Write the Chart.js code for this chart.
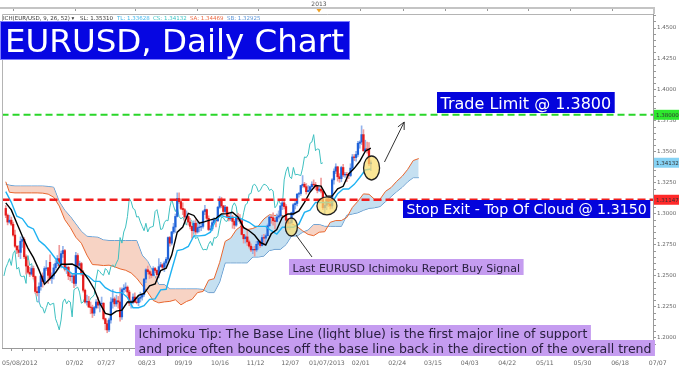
<!DOCTYPE html>
<html>
<head>
<meta charset="utf-8">
<script src="https://cdn.jsdelivr.net/npm/chart.js@4.4.1/dist/chart.umd.min.js"></script>
<style>
html, body { margin: 0; padding: 0; background: #fff; }
#wrap { width: 680px; height: 372px; position: relative; }
</style>
</head>
<body>
<div id="wrap"><canvas id="chart" width="680" height="372"></canvas></div>
<script>
// daily EUR/USD candles, bar 0 = 05/08/2012
var opens = [
    1.3045,1.2990,1.2935,1.2950,1.2917,1.2830,1.2740,1.2710,1.2690,1.2780,
    1.2795,1.2655,1.2580,1.2530,1.2515,1.2560,1.2495,1.2375,1.2365,1.2415,
    1.2500,1.2455,1.2560,1.2565,1.2610,1.2480,1.2500,1.2565,1.2600,1.2640,
    1.2585,1.2680,1.2705,1.2555,1.2570,1.2500,1.2495,1.2500,1.2440,1.2665,
    1.2585,1.2600,1.2520,1.2385,1.2290,1.2295,1.2250,1.2245,1.2200,1.2245,
    1.2290,1.2265,1.2275,1.2280,1.2155,1.2115,1.2065,1.2145,1.2290,1.2315,
    1.2275,1.2300,1.2290,1.2170,1.2390,1.2400,1.2410,1.2370,1.2280,1.2290,
    1.2330,1.2290,1.2285,1.2320,1.2330,1.2350,1.2475,1.2550,1.2535,1.2515,
    1.2505,1.2560,1.2545,1.2510,1.2575,1.2590,1.2570,1.2605,1.2635,1.2810,
    1.2765,1.2855,1.2895,1.2980,1.3125,1.3100,1.3045,1.3035,1.2975,1.2980,
    1.2935,1.2900,1.2865,1.2925,1.2855,1.2890,1.2895,1.2900,1.3020,1.3035,
    1.2965,1.2875,1.2880,1.2930,1.2950,1.2945,1.3055,1.3120,1.3065,1.3020,
    1.3055,1.2980,1.2960,1.2975,1.2940,1.2910,1.2975,1.2960,1.2945,1.2835,
    1.2800,1.2815,1.2775,1.2740,1.2710,1.2715,1.2710,1.2755,1.2780,1.2745,
    1.2810,1.2805,1.2825,1.2905,1.2975,1.2970,1.2945,1.2940,1.2975,1.2985,
    1.3065,1.3090,1.3060,1.2950,1.2925,1.2930,1.3010,1.3075,1.3085,1.3160,
    1.3165,1.3230,1.3240,1.3220,1.3180,1.3190,1.3220,1.3240,1.3235,1.3220,
    1.3190,1.3200,1.3185,1.3050,1.3070,1.3115,1.3080,1.3065,1.3275,1.3345,
    1.3380,1.3300,1.3285,1.3375,1.3315,1.3320,1.3315,1.3310,1.3370,1.3460,
    1.3455,1.3480,1.3570,1.3580,1.3640,1.3510,1.3525,1.3520,1.3405
];
var highs = [
    1.3068,1.3000,1.2990,1.2975,1.2935,1.2870,1.2745,1.2745,1.2815,1.2820,
    1.2810,1.2670,1.2625,1.2570,1.2580,1.2580,1.2500,1.2410,1.2445,1.2515,
    1.2525,1.2575,1.2625,1.2570,1.2670,1.2525,1.2595,1.2625,1.2665,1.2747,
    1.2700,1.2740,1.2715,1.2590,1.2580,1.2525,1.2515,1.2515,1.2690,1.2680,
    1.2620,1.2610,1.2545,1.2395,1.2345,1.2335,1.2290,1.2265,1.2255,1.2310,
    1.2330,1.2295,1.2330,1.2285,1.2160,1.2140,1.2160,1.2325,1.2390,1.2330,
    1.2345,1.2335,1.2405,1.2405,1.2430,1.2445,1.2420,1.2385,1.2305,1.2355,
    1.2365,1.2320,1.2345,1.2370,1.2355,1.2480,1.2560,1.2580,1.2545,1.2535,
    1.2575,1.2570,1.2550,1.2640,1.2610,1.2600,1.2620,1.2650,1.2815,1.2820,
    1.2860,1.2925,1.3000,1.3170,1.3170,1.3120,1.3090,1.3045,1.3025,1.2985,
    1.2965,1.2905,1.2945,1.2955,1.2935,1.2935,1.2935,1.3030,1.3070,1.3040,
    1.2985,1.2905,1.2950,1.2970,1.2960,1.3060,1.3140,1.3135,1.3070,1.3070,
    1.3060,1.3015,1.3015,1.2990,1.2955,1.2990,1.3005,1.2995,1.2955,1.2835,
    1.2830,1.2880,1.2790,1.2760,1.2735,1.2740,1.2780,1.2790,1.2790,1.2830,
    1.2835,1.2840,1.2920,1.2985,1.2985,1.3010,1.2965,1.3000,1.3025,1.3070,
    1.3125,1.3110,1.3075,1.2965,1.2950,1.3015,1.3085,1.3100,1.3165,1.3175,
    1.3230,1.3310,1.3255,1.3245,1.3230,1.3225,1.3260,1.3275,1.3255,1.3230,
    1.3215,1.3290,1.3195,1.3085,1.3125,1.3135,1.3105,1.3285,1.3365,1.3405,
    1.3385,1.3325,1.3385,1.3400,1.3335,1.3335,1.3330,1.3405,1.3480,1.3480,
    1.3505,1.3585,1.3590,1.3711,1.3680,1.3595,1.3580,1.3575,1.3430
];
var lows = [
    1.2970,1.2912,1.2925,1.2905,1.2820,1.2730,1.2680,1.2655,1.2640,1.2730,
    1.2640,1.2515,1.2520,1.2495,1.2505,1.2475,1.2360,1.2340,1.2288,1.2385,
    1.2410,1.2445,1.2545,1.2440,1.2465,1.2440,1.2475,1.2550,1.2580,1.2570,
    1.2565,1.2650,1.2540,1.2520,1.2470,1.2460,1.2445,1.2405,1.2420,1.2560,
    1.2555,1.2505,1.2370,1.2280,1.2265,1.2245,1.2195,1.2165,1.2180,1.2235,
    1.2240,1.2210,1.2250,1.2145,1.2065,1.2042,1.2050,1.2120,1.2240,1.2255,
    1.2255,1.2240,1.2135,1.2150,1.2365,1.2375,1.2340,1.2260,1.2240,1.2275,
    1.2285,1.2275,1.2260,1.2290,1.2305,1.2335,1.2445,1.2515,1.2480,1.2485,
    1.2500,1.2525,1.2475,1.2485,1.2570,1.2555,1.2535,1.2570,1.2620,1.2740,
    1.2750,1.2840,1.2850,1.2975,1.3085,1.3035,1.2995,1.2920,1.2960,1.2910,
    1.2880,1.2805,1.2845,1.2835,1.2845,1.2855,1.2865,1.2885,1.2995,1.2955,
    1.2865,1.2860,1.2865,1.2920,1.2895,1.2940,1.3045,1.3050,1.3005,1.3010,
    1.2970,1.2945,1.2945,1.2885,1.2880,1.2900,1.2950,1.2925,1.2830,1.2765,
    1.2765,1.2745,1.2725,1.2695,1.2680,1.2660,1.2695,1.2715,1.2730,1.2740,
    1.2750,1.2760,1.2820,1.2895,1.2925,1.2910,1.2880,1.2935,1.2960,1.2975,
    1.3035,1.3040,1.2925,1.2875,1.2875,1.2920,1.2990,1.3040,1.3065,1.3135,
    1.3150,1.3215,1.3210,1.3160,1.3175,1.3180,1.3195,1.3205,1.3195,1.3170,
    1.3180,1.3170,1.3035,1.2998,1.3035,1.3060,1.3040,1.3045,1.3240,1.3325,
    1.3265,1.3255,1.3260,1.3300,1.3295,1.3260,1.3285,1.3300,1.3355,1.3430,
    1.3425,1.3465,1.3530,1.3560,1.3505,1.3500,1.3490,1.3390,1.3350
];
var closes = [
    1.2990,1.2935,1.2950,1.2917,1.2830,1.2740,1.2710,1.2690,1.2780,1.2795,
    1.2655,1.2580,1.2530,1.2515,1.2560,1.2495,1.2375,1.2365,1.2415,1.2500,
    1.2455,1.2560,1.2565,1.2505,1.2480,1.2500,1.2565,1.2600,1.2640,1.2585,
    1.2680,1.2705,1.2555,1.2570,1.2500,1.2495,1.2500,1.2440,1.2665,1.2585,
    1.2600,1.2520,1.2385,1.2290,1.2295,1.2250,1.2245,1.2200,1.2245,1.2290,
    1.2265,1.2275,1.2280,1.2155,1.2115,1.2065,1.2145,1.2290,1.2315,1.2275,
    1.2300,1.2290,1.2170,1.2390,1.2400,1.2410,1.2370,1.2280,1.2290,1.2330,
    1.2290,1.2285,1.2320,1.2330,1.2350,1.2475,1.2550,1.2535,1.2515,1.2505,
    1.2560,1.2545,1.2510,1.2575,1.2590,1.2570,1.2605,1.2635,1.2810,1.2765,
    1.2855,1.2895,1.2980,1.3125,1.3100,1.3045,1.3035,1.2975,1.2980,1.2935,
    1.2900,1.2865,1.2925,1.2855,1.2890,1.2895,1.2900,1.3020,1.3035,1.2965,
    1.2875,1.2880,1.2930,1.2950,1.2945,1.3055,1.3120,1.3065,1.3020,1.3055,
    1.2980,1.2960,1.2975,1.2940,1.2910,1.2975,1.2960,1.2945,1.2835,1.2800,
    1.2815,1.2775,1.2740,1.2710,1.2715,1.2710,1.2755,1.2780,1.2745,1.2810,
    1.2805,1.2825,1.2905,1.2975,1.2970,1.2945,1.2940,1.2975,1.2985,1.3065,
    1.3090,1.3060,1.2950,1.2925,1.2930,1.3010,1.3075,1.3085,1.3160,1.3165,
    1.3230,1.3240,1.3220,1.3180,1.3190,1.3220,1.3240,1.3235,1.3220,1.3190,
    1.3200,1.3185,1.3050,1.3070,1.3115,1.3080,1.3065,1.3275,1.3345,1.3380,
    1.3300,1.3285,1.3375,1.3315,1.3320,1.3315,1.3310,1.3370,1.3460,1.3455,
    1.3480,1.3570,1.3580,1.3640,1.3510,1.3525,1.3520,1.3405,1.3413
];

// ichimoku lines, read every 3rd bar
var lineX = [0,3,6,9,12,15,18,21,24,27,30,33,36,39,42,45,48,51,54,57,60,63,66,69,72,75,78,81,84,87,90,93,96,99,
    102,105,108,111,114,117,120,123,126,129,132,135,138,141,144,147,150,153,156,159,162,165,168,171,174,177,180,183,186,189,192,195,198];
var tenkan = [1.3090,1.3033,1.2925,1.2820,1.2725,1.2648,1.2549,1.2434,1.2479,1.2528,1.2594,1.2594,1.2596,1.2573,
    1.2530,1.2468,1.2393,1.2280,1.2198,1.2186,1.2216,1.2224,1.2290,1.2290,1.2343,1.2360,1.2420,1.2435,1.2543,1.2563,
    1.2668,1.2853,1.2895,1.3005,1.2988,1.2925,1.2938,1.2953,1.2965,1.3000,1.3003,1.3013,1.2975,1.2890,1.2865,1.2828,
    1.2770,1.2750,1.2840,1.2875,1.2973,1.3000,1.3000,1.3025,1.3093,1.3175,1.3230,1.3225,1.3144,1.3144,1.3202,1.3223,
    1.3323,1.3368,1.3425,1.3506,1.3531];
var kijun = [1.3180,1.3094,1.2982,1.2962,1.2899,1.2879,1.2786,1.2749,1.2699,1.2639,1.2579,1.2554,1.2518,1.2518,
    1.2518,1.2496,1.2456,1.2456,1.2406,1.2379,1.2366,1.2366,1.2326,1.2244,1.2244,1.2261,1.2311,1.2315,1.2388,1.2393,
    1.2550,1.2705,1.2715,1.2738,1.2823,1.2823,1.2828,1.2853,1.2955,1.2988,1.2973,1.2973,1.2973,1.2953,1.2933,1.2900,
    1.2900,1.2900,1.2865,1.2838,1.2893,1.2893,1.2893,1.2918,1.3013,1.3030,1.3093,1.3093,1.3093,1.3093,1.3163,1.3202,
    1.3202,1.3239,1.3294,1.3355,1.3363];

// cloud, plotted 26 bars ahead
var cloudX = [0,2,5,8,11,14,17,20,23,26,29,32,35,38,41,44,47,50,53,56,59,62,65,68,71,74,77,80,83,86,89,92,95,98,
    101,104,107,110,113,116,119,122,125,128,131,134,137,140,143,146,149,152,155,158,161,164,167,170,173,176,179,182,
    185,188,191,194,197,200,203,206,209,212,215,218,221,224];
var senkouA = [1.3260,1.3175,1.3170,1.3170,1.3170,1.3170,1.3170,1.3168,1.3160,
    1.3135,1.3064,1.2954,1.2891,1.2812,1.2764,1.2668,1.2592,1.2589,1.2584,1.2587,1.2574,1.2557,1.2546,1.2524,1.2482,
    1.2425,1.2368,1.2302,1.2283,1.2291,1.2295,1.2308,1.2267,1.2294,1.2311,1.2366,1.2375,1.2466,1.2478,1.2609,1.2779,
    1.2805,1.2872,1.2906,1.2874,1.2883,1.2903,1.2960,1.2994,1.2988,1.2993,1.2974,1.2922,1.2899,1.2864,1.2835,1.2825,
    1.2853,1.2857,1.2933,1.2947,1.2947,1.2972,1.3053,1.3103,1.3162,1.3159,1.3119,1.3119,1.3183,1.3213,1.3263,1.3304,
    1.3360,1.3431,1.3447];
var senkouB = [1.3240,1.3232,1.3225,1.3225,1.3225,1.3225,1.3225,1.3225,1.3222,
    1.3215,1.3100,1.3030,1.2980,1.2920,1.2860,1.2820,1.2815,1.2812,1.2790,1.2786,1.2786,1.2786,1.2786,1.2786,1.2786,
    1.2668,1.2617,1.2528,1.2431,1.2431,1.2395,1.2395,1.2395,1.2395,1.2395,1.2395,1.2391,1.2366,1.2366,1.2451,1.2606,
    1.2606,1.2606,1.2606,1.2606,1.2653,1.2653,1.2660,1.2705,1.2715,1.2715,1.2753,1.2823,1.2823,1.2853,1.2870,1.2915,
    1.2915,1.2900,1.2900,1.2900,1.2900,1.2990,1.3000,1.3010,1.3030,1.3045,1.3050,1.3060,1.3100,1.3140,1.3180,1.3215,
    1.3260,1.3293,1.3293];
var chikouShift = 26;

var tradeLimit = 1.3800;
var stopExit = 1.31147;
var lastClose = 1.34132;

var xTickPos = [0, 37.3, 54.5, 76.5, 96.3, 116.2, 135.5, 154.3, 174.2, 192.5, 212.3, 231.7, 251.6, 272, 292.4, 312.8, 333.2, 353.6];
var xTickLabels = ['05/08/2012','07/02','07/27','08/23','09/19','10/16','11/12','12/07','01/07/2013','02/01',
    '02/24','03/15','04/03','04/22','05/11','05/30','06/18','07/07'];

var xMin = -0.3, xMax = 349.3;
var yMin = 1.1919, yMax = 1.4613;

var upColor = '#1f62d8', downColor = '#e51b1b';
var upWick = '#93b3ec', downWick = '#f09a9a';

function pairs(xs, ys) {
    return ys.map(function (v, k) { return { x: xs[k], y: v }; });
}

var bodies = closes.map(function (c, i) { return { x: i, y: [opens[i], c] }; });
var wicks = closes.map(function (c, i) { return { x: i, y: [lows[i], highs[i]] }; });
var bodyColors = closes.map(function (c, i) { return c >= opens[i] ? upColor : downColor; });
var wickColors = closes.map(function (c, i) { return c >= opens[i] ? upWick : downWick; });
var chikou = closes.map(function (c, i) { return { x: i - chikouShift, y: c }; });

function hline(v) {
    return [{ x: xMin - 2, y: v }, { x: xMax + 2, y: v }];
}

function box(ctx, text, left, top, h, font, fill, color, base) {
    ctx.font = font;
    var w = ctx.measureText(text).width + 7;
    ctx.fillStyle = fill;
    ctx.fillRect(left, top, w, h);
    ctx.fillStyle = color;
    ctx.textAlign = 'left';
    ctx.textBaseline = 'alphabetic';
    ctx.fillText(text, left + 3.5, top + base);
}

const overlay = {
    id: 'overlay',
    afterDraw(chart) {
        const { ctx, chartArea: a, scales: { x, y } } = chart;
        ctx.save();

        // frame + navigator strip on top
        ctx.strokeStyle = '#b4b4b4';
        ctx.lineWidth = 1;
        ctx.beginPath();
        ctx.moveTo(a.left + 0.5, a.bottom);
        ctx.lineTo(a.left + 0.5, a.top + 0.5);
        ctx.lineTo(a.right, a.top + 0.5);
        ctx.stroke();
        ctx.strokeStyle = '#c4c4c4';
        ctx.lineWidth = 2;
        ctx.beginPath();
        ctx.moveTo(0, 8);
        ctx.lineTo(a.right + 2, 8);
        ctx.moveTo(a.right + 1, 7);
        ctx.lineTo(a.right + 1, a.top);
        ctx.stroke();
        ctx.strokeStyle = '#999';
        ctx.lineWidth = 1;
        ctx.beginPath();
        [13, 75, 135, 197, 258, 360, 403, 445, 487, 528, 570, 612].forEach(function (px) {
            ctx.moveTo(px + 0.5, 9);
            ctx.lineTo(px + 0.5, 11);
        });
        ctx.stroke();
        ctx.fillStyle = '#f0a020';
        ctx.beginPath();
        ctx.moveTo(316.5, 9);
        ctx.lineTo(321.5, 9);
        ctx.lineTo(319, 12.5);
        ctx.closePath();
        ctx.fill();
        ctx.fillStyle = '#555';
        ctx.font = '6px "DejaVu Sans"';
        ctx.textAlign = 'center';
        ctx.textBaseline = 'middle';
        ctx.fillText('2013', 319, 4);

        // indicator header
        ctx.font = '5.5px "DejaVu Sans"';
        ctx.textAlign = 'left';
        ctx.textBaseline = 'alphabetic';
        var head = [['ICH(EUR/USD, 9, 26, 52) \u25be', '#333', 3], ['SL: 1.35310', '#333', 80], ['TL: 1.33628', '#3cb4ec', 117],
            ['CS: 1.34132', '#3cc4c4', 153], ['SA: 1.34469', '#ec6a44', 190], ['SB: 1.32925', '#5b95d8', 227]];
        head.forEach(function (h) {
            ctx.fillStyle = h[1];
            ctx.fillText(h[0], h[2], 19.5);
        });

        // title
        ctx.fillStyle = '#0606e2';
        ctx.fillRect(0, 21, 350, 39);
        ctx.strokeStyle = '#7d7dff';
        ctx.strokeRect(0.5, 21.5, 349, 38);
        ctx.fillStyle = '#fff';
        ctx.font = '32.5px "DejaVu Sans"';
        ctx.fillText('EURUSD, Daily Chart', 5, 52);

        // notes
        box(ctx, 'Trade Limit @ 1.3800', 437, 92, 21, '16px "DejaVu Sans"', '#0404dc', '#fff', 16.5);
        box(ctx, 'Stop Exit - Top Of Cloud @ 1.3150', 403, 200, 18, '14.2px "DejaVu Sans"', '#0404dc', '#fff', 14);
        box(ctx, 'Last EURUSD Ichimoku Report Buy Signal', 289, 259, 16, '11px "DejaVu Sans"', '#c59cf0', '#2a2040', 12.5);
        box(ctx, 'Ichimoku Tip: The Base Line (light blue) is the first major line of support', 135, 325, 16, '12.5px "DejaVu Sans"', '#c59cf0', '#2a2040', 12.5);
        box(ctx, 'and price often bounces off the base line back in the direction of the overall trend', 135, 340, 16, '12.5px "DejaVu Sans"', '#c59cf0', '#2a2040', 12.5);

        // highlighted bounces (bar index, price)
        [[154.9, 1.2895, 6, 9], [174.2, 1.3065, 10, 9], [198.4, 1.3371, 8, 12]].forEach(function (c) {
            ctx.beginPath();
            ctx.ellipse(x.getPixelForValue(c[0]), y.getPixelForValue(c[1]), c[2], c[3], 0, 0, Math.PI * 2);
            ctx.fillStyle = 'rgba(250,222,110,0.72)';
            ctx.fill();
            ctx.strokeStyle = '#222';
            ctx.lineWidth = 1.3;
            ctx.stroke();
        });

        // pointer from note to first bounce
        ctx.strokeStyle = '#333';
        ctx.lineWidth = 1;
        ctx.beginPath();
        ctx.moveTo(312, 257);
        ctx.lineTo(296, 235);
        ctx.stroke();

        // trend arrow
        var x0 = x.getPixelForValue(205.4), y0 = y.getPixelForValue(1.3419);
        var x1 = x.getPixelForValue(216.1), y1 = y.getPixelForValue(1.3742);
        var ang = Math.atan2(y1 - y0, x1 - x0);
        ctx.beginPath();
        ctx.moveTo(x0, y0);
        ctx.lineTo(x1, y1);
        ctx.moveTo(x1 - 8 * Math.cos(ang - 0.45), y1 - 8 * Math.sin(ang - 0.45));
        ctx.lineTo(x1, y1);
        ctx.lineTo(x1 - 8 * Math.cos(ang + 0.45), y1 - 8 * Math.sin(ang + 0.45));
        ctx.stroke();

        // price flags on the axis
        ctx.font = '5.5px "DejaVu Sans"';
        ctx.textBaseline = 'middle';
        [[tradeLimit, '1.38000', '#2ee82e'], [lastClose, '1.34132', '#86d2f4'], [stopExit, '1.31147', '#ff2a2a']].forEach(function (f) {
            var py = y.getPixelForValue(f[0]);
            ctx.fillStyle = f[2];
            ctx.fillRect(a.right + 1, py - 5, 25, 10);
            ctx.fillStyle = '#333';
            ctx.fillText(f[1], a.right + 3, py + 0.5);
        });

        // date labels
        ctx.font = '6.2px "DejaVu Sans"';
        ctx.fillStyle = '#666';
        xTickPos.forEach(function (v, k) {
            var px = x.getPixelForValue(v);
            ctx.textAlign = k === 0 ? 'left' : 'center';
            ctx.fillText(xTickLabels[k], k === 0 ? a.left : px, 363);
        });
        ctx.restore();
    }
};

new Chart(document.getElementById('chart'), {
    type: 'bar',
    data: {
        datasets: [
            { type: 'line', label: 'Trade limit', data: hline(tradeLimit), borderColor: '#2ad62a', borderWidth: 2,
              borderDash: [7, 4], pointRadius: 0, order: 0 },
            { type: 'line', label: 'Stop exit', data: hline(stopExit), borderColor: '#f01c1c', borderWidth: 2.5,
              borderDash: [8, 4], pointRadius: 0, order: 0 },
            { type: 'line', label: 'Tenkan', data: pairs(lineX, tenkan), borderColor: '#000', borderWidth: 1.4,
              pointRadius: 0, order: 1 },
            { type: 'line', label: 'Kijun', data: pairs(lineX, kijun), borderColor: '#1eb2f2', borderWidth: 1.4,
              pointRadius: 0, order: 1 },
            { type: 'line', label: 'Chikou', data: chikou, borderColor: '#3ec0c0', borderWidth: 1,
              pointRadius: 0, order: 4 },
            { type: 'bar', label: 'Wicks', data: wicks, backgroundColor: wickColors, barThickness: 1,
              grouped: false, order: 3 },
            { type: 'bar', label: 'Bodies', data: bodies, backgroundColor: bodyColors, barThickness: 1.6,
              grouped: false, order: 2 },
            { type: 'line', label: 'Senkou A', data: pairs(cloudX, senkouA), borderColor: '#e8672f', borderWidth: 1,
              pointRadius: 0, order: 6,
              fill: { target: '+1', above: 'rgba(178,214,236,0.75)', below: 'rgba(244,196,176,0.75)' } },
            { type: 'line', label: 'Senkou B', data: pairs(cloudX, senkouB), borderColor: '#3f8ed4', borderWidth: 1,
              pointRadius: 0, order: 6 }
        ]
    },
    options: {
        responsive: false,
        animation: false,
        devicePixelRatio: 1,
        layout: { padding: { left: 2, top: 14, right: 0, bottom: 0 } },
        plugins: { legend: { display: false }, tooltip: { enabled: false } },
        scales: {
            x: {
                type: 'linear', min: xMin, max: xMax, position: 'bottom',
                afterBuildTicks: function (s) {
                    var t = [];
                    for (var k = 0; k < xTickPos.length - 1; k++) {
                        for (var m = 0; m < 6; m++) {
                            var v = xTickPos[k] + (xTickPos[k + 1] - xTickPos[k]) * m / 6;
                            if (v <= xMax) t.push({ value: v });
                        }
                    }
                    s.ticks = t;
                },
                afterFit: function (s) { s.height = 24; },
                ticks: { display: false },
                grid: { drawOnChartArea: false, tickLength: 3, color: '#999' },
                border: { color: '#999' }
            },
            y: {
                type: 'linear', position: 'right', min: yMin, max: yMax,
                afterBuildTicks: function (s) {
                    var t = [];
                    for (var k = 239; k <= 292; k++) t.push({ value: k / 200 });
                    s.ticks = t;
                },
                afterFit: function (s) { s.width = 27; },
                ticks: {
                    autoSkip: false, color: '#666', padding: 1,
                    font: { family: 'DejaVu Sans', size: 5.5 },
                    callback: function (v) {
                        return Math.abs(v * 40 - Math.round(v * 40)) < 1e-6 ? v.toFixed(4) : '';
                    }
                },
                grid: { drawOnChartArea: false, tickLength: 3, color: '#999' },
                border: { color: '#999' }
            }
        }
    },
    plugins: [overlay]
});
</script>
</body>
</html>
